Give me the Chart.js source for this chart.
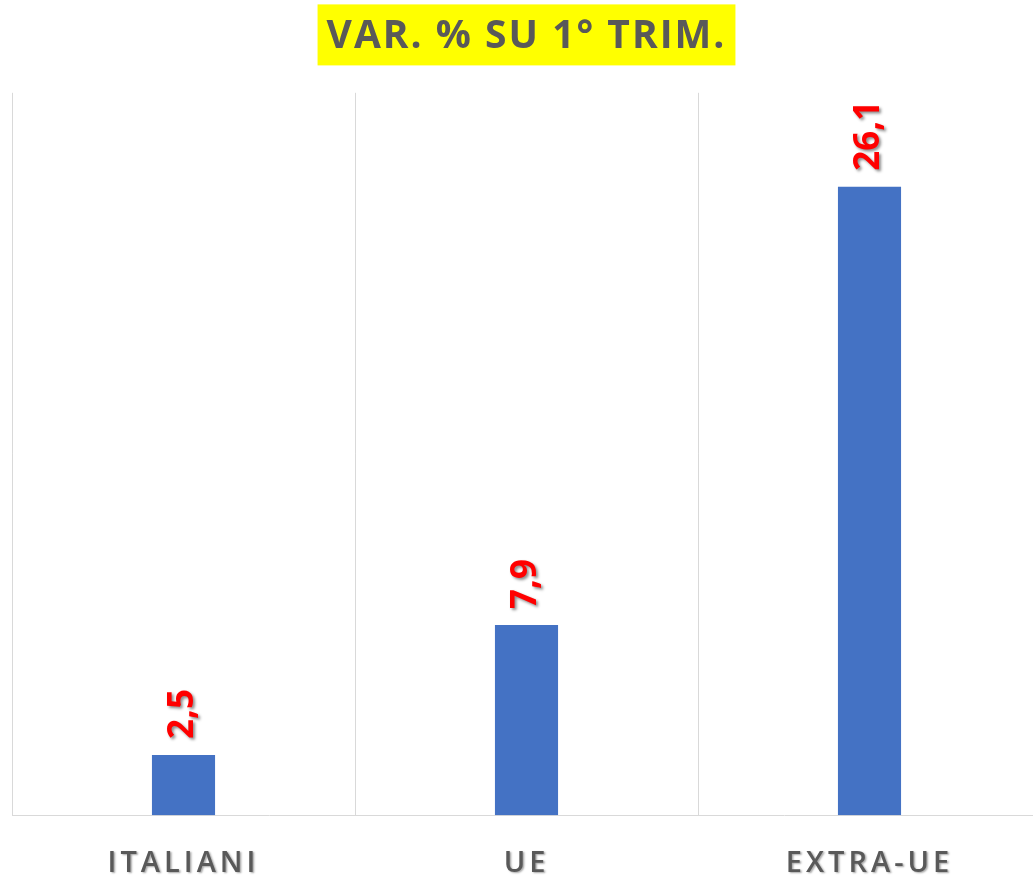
<!DOCTYPE html>
<html>
<head>
<meta charset="utf-8">
<script src="https://cdn.jsdelivr.net/npm/chart.js@4/dist/chart.umd.min.js"></script>
<style>
  html, body { margin: 0; padding: 0; background: #ffffff; overflow: hidden; }
  #wrap { width: 1050px; height: 881px; }
</style>
</head>
<body>
<div id="wrap"><canvas id="c" width="1050" height="881"></canvas></div>
<script>
const categories = ['ITALIANI', 'UE', 'EXTRA-UE'];
const values = [2.5, 7.9, 26.1];
const titleText = 'VAR. % SU 1° TRIM.';

const TITLE_FONT = { family: '"Open Sans", sans-serif', size: 39, weight: 'bold' };
const TICK_FONT = { family: '"Open Sans", sans-serif', size: 29, weight: '600' };

const decorPlugin = {
  id: 'decor',
  beforeDraw(chart) {
    const ctx = chart.ctx;
    const tb = chart.titleBlock;
    ctx.save();
    ctx.font = `${TITLE_FONT.weight} ${TITLE_FONT.size}px ${TITLE_FONT.family}`;
    ctx.letterSpacing = '2px';
    const w = ctx.measureText(titleText).width;
    ctx.restore();
    const cx = (tb.left + tb.right) / 2;
    const cy = tb.top + tb.options.padding.top + TITLE_FONT.size * 1.2 / 2;
    ctx.fillStyle = '#FFFF00';
    ctx.fillRect(cx - w / 2 - 9, cy - 32, w + 18, 61);
    ctx.letterSpacing = '2px';
  },
  beforeDatasetsDraw(chart) {
    chart.ctx.letterSpacing = '0px';
  },
  afterDatasetsDraw(chart) {
    const ctx = chart.ctx;
    const meta = chart.getDatasetMeta(0);
    ctx.save();
    ctx.letterSpacing = '0px';
    ctx.font = 'bold 35px "Open Sans", sans-serif';
    ctx.fillStyle = '#FF0000';
    ctx.shadowColor = 'rgba(0,0,0,0.45)';
    ctx.shadowOffsetX = 2;
    ctx.shadowOffsetY = 2;
    ctx.shadowBlur = 3;
    ctx.textAlign = 'left';
    ctx.textBaseline = 'middle';
    meta.data.forEach((bar, i) => {
      const label = values[i].toFixed(1).replace('.', ',');
      ctx.save();
      ctx.translate(bar.x, bar.y - 16);
      ctx.rotate(-Math.PI / 2);
      ctx.fillText(label, 0, 0);
      ctx.restore();
    });
    ctx.restore();
    // style for the x tick labels drawn afterwards
    ctx.letterSpacing = '4px';
    ctx.shadowColor = 'rgba(0,0,0,0.35)';
    ctx.shadowOffsetX = 1.5;
    ctx.shadowOffsetY = 1.5;
    ctx.shadowBlur = 2;
  },
  afterDraw(chart) {
    const ctx = chart.ctx;
    ctx.letterSpacing = '0px';
    ctx.shadowColor = 'rgba(0,0,0,0)';
    ctx.shadowOffsetX = 0;
    ctx.shadowOffsetY = 0;
    ctx.shadowBlur = 0;
  }
};

new Chart(document.getElementById('c'), {
  type: 'bar',
  data: {
    labels: categories,
    datasets: [{
      data: values,
      backgroundColor: '#4472C4',
      borderWidth: 0,
      barPercentage: 0.184,
      categoryPercentage: 1
    }]
  },
  options: {
    responsive: false,
    animation: false,
    devicePixelRatio: 1,
    layout: { padding: { left: 12, right: 9, top: 0, bottom: -31 } },
    plugins: {
      legend: { display: false },
      tooltip: { enabled: false },
      title: {
        display: true,
        text: titleText,
        color: '#595959',
        font: TITLE_FONT,
        padding: { top: 13, bottom: 33 }
      }
    },
    scales: {
      x: {
        grid: { color: '#D9D9D9', lineWidth: 1, drawTicks: false, offset: true },
        border: { color: '#D9D9D9', width: 1 },
        ticks: { color: '#595959', font: TICK_FONT, padding: 31, z: 1 }
      },
      y: {
        display: false,
        min: 0,
        max: 30
      }
    }
  },
  plugins: [decorPlugin]
});
</script>
</body>
</html>
